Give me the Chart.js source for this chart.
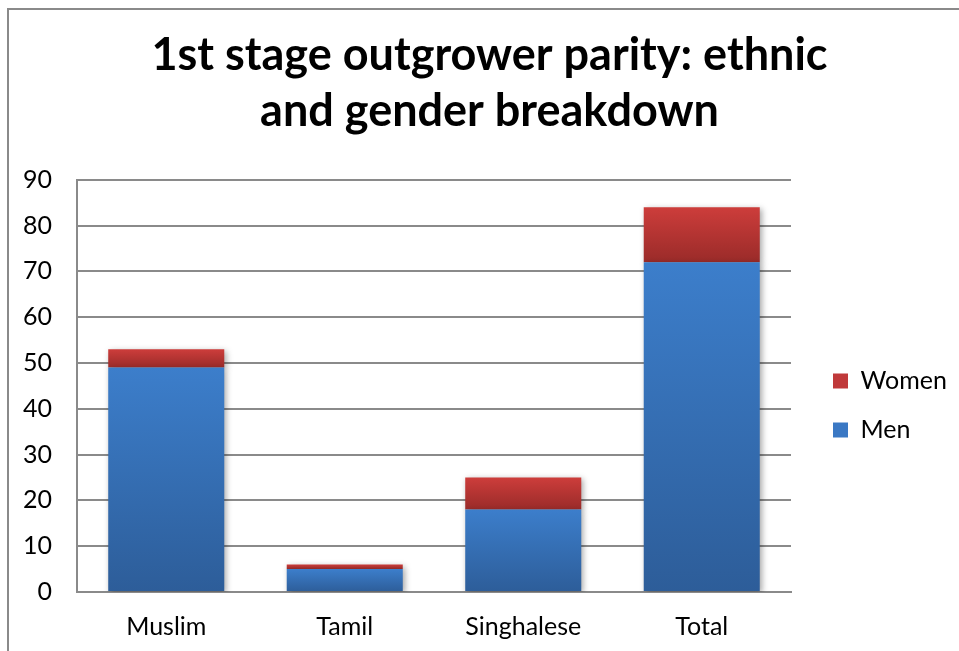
<!DOCTYPE html>
<html>
<head>
<meta charset="utf-8">
<script src="https://cdn.jsdelivr.net/npm/chart.js@4/dist/chart.umd.min.js"></script>
<style>
html,body{margin:0;padding:0;background:#fff;overflow:hidden;}
#wrap{position:relative;width:959px;height:651px;}
#frame{position:absolute;left:7px;top:8px;width:1100px;height:1100px;border:2px solid #8a8a8a;box-sizing:border-box;pointer-events:none;}
canvas{position:absolute;left:0;top:0;}
</style>
</head>
<body>
<div id="wrap">
<div id="frame"></div>
<canvas id="c" width="959" height="651"></canvas>
</div>
<script>
const categories = ['Muslim', 'Tamil', 'Singhalese', 'Total'];
const men = [49, 5, 18, 72];
const women = [4, 1, 7, 12];
const titleLines = ['1st stage outgrower parity: ethnic', 'and gender breakdown'];
const yTicks = [0, 10, 20, 30, 40, 50, 60, 70, 80, 90];

const FONT = 'Lato, "Open Sans", sans-serif';

function grad(ctx, base, top, cTop, cBot, solid) {
  const chart = ctx.chart;
  if (!chart.chartArea || !chart.scales.y) return solid;
  const ys = chart.scales.y;
  const y1 = ys.getPixelForValue(top);
  const y0 = ys.getPixelForValue(base);
  if (!isFinite(y1) || !isFinite(y0) || y1 === y0) return solid;
  const g = chart.ctx.createLinearGradient(0, y1, 0, y0);
  g.addColorStop(0, cTop);
  g.addColorStop(1, cBot);
  return g;
}

const tweak = {
  id: 'tweak',
  afterInit(chart) {
    const lg = chart.legend;
    if (lg) {
      const origFit = lg.fit.bind(lg);
      lg.fit = function () { origFit(); this.width = 168; };
      const origDraw = lg.draw.bind(lg);
      lg.draw = function () {
        const c = this.ctx; c.save(); c.translate(18, 80); origDraw(); c.restore();
      };
    }
    const tb = chart.titleBlock;
    if (tb) {
      const tDraw = tb.draw.bind(tb);
      tb.draw = function () {
        const c = this.ctx; c.save(); c.translate(10, 0); tDraw(); c.restore();
      };
    }
  },
  beforeDatasetsDraw(chart) {
    const c = chart.ctx;
    c.save();
    c.shadowColor = 'rgba(0,0,0,0.35)';
    c.shadowBlur = 6;
    c.shadowOffsetX = 2;
    c.shadowOffsetY = 2;
  },
  afterDatasetsDraw(chart) {
    chart.ctx.restore();
  }
};

new Chart(document.getElementById('c'), {
  type: 'bar',
  data: {
    labels: categories,
    datasets: [
      {
        label: 'Men',
        data: men,
        backgroundColor: (ctx) => ctx.type === 'data'
          ? grad(ctx, 0, men[ctx.dataIndex], '#3c7ecb', '#2d5d99', '#3a78c4')
          : '#3a78c4',
        borderWidth: 0,
        categoryPercentage: 0.65,
        barPercentage: 1.0
      },
      {
        label: 'Women',
        data: women,
        backgroundColor: (ctx) => ctx.type === 'data'
          ? grad(ctx, men[ctx.dataIndex], men[ctx.dataIndex] + women[ctx.dataIndex], '#cd3d3b', '#9a2b29', '#c0393a')
          : '#c0393a',
        borderWidth: 0,
        categoryPercentage: 0.65,
        barPercentage: 1.0
      }
    ]
  },
  options: {
    responsive: false,
    animation: false,
    layout: { padding: { left: 0, right: 0, top: 0, bottom: 0 } },
    plugins: {
      title: {
        display: true,
        text: titleLines,
        color: '#000',
        font: { family: FONT, size: 45, weight: 'bold', lineHeight: 1.23 },
        padding: { top: 28, bottom: 41 }
      },
      legend: {
        position: 'right',
        reverse: true,
        labels: {
          color: '#000',
          font: { family: FONT, size: 25 },
          boxWidth: 15,
          boxHeight: 15,
          padding: 24,
          generateLabels(chart) {
            const cols = ['#3a78c4', '#c0393a'];
            return chart.data.datasets.map((d, i) => ({
              text: d.label, fillStyle: cols[i], strokeStyle: cols[i], lineWidth: 0,
              hidden: false, datasetIndex: i, fontColor: '#000'
            }));
          }
        }
      },
      tooltip: { enabled: false }
    },
    scales: {
      x: {
        stacked: true,
        afterFit(scale) { scale.height = 59; },
        grid: { display: false, drawTicks: false },
        border: { display: true, color: '#8a8a8a', width: 2 },
        ticks: { color: '#000', font: { family: FONT, size: 25 }, padding: 20 }
      },
      y: {
        stacked: true,
        min: 0,
        max: 90,
        afterFit(scale) { scale.width = 77; },
        afterBuildTicks(scale) { scale.ticks = yTicks.map(v => ({ value: v })); },
        grid: { color: '#8a8a8a', lineWidth: 2, drawTicks: false },
        border: { display: true, color: '#8a8a8a', width: 2 },
        ticks: { color: '#000', font: { family: FONT, size: 25 }, padding: 25 }
      }
    }
  },
  plugins: [tweak]
});
</script>
</body>
</html>
